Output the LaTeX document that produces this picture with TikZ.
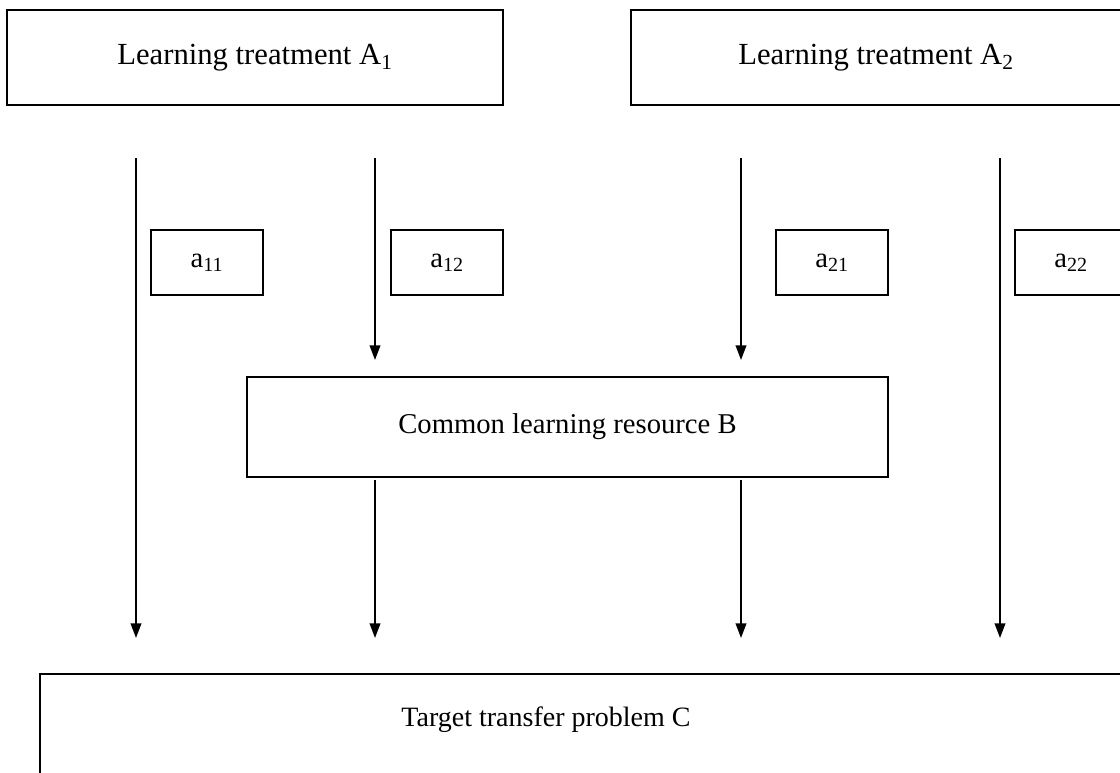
\documentclass[tikz,border=0pt]{standalone}
\usepackage{fontspec}
\setmainfont{Liberation Serif}
\usetikzlibrary{arrows.meta}
\begin{document}
\begin{tikzpicture}[x=0.75pt,y=-0.75pt,
  box/.style={draw=black,line width=1.3pt,inner sep=0pt,font=\fontsize{21.5}{25}\selectfont},
  big/.style={box,minimum height=71.25pt,font=\fontsize{23}{27}\selectfont},
  small/.style={draw=black,line width=1.3pt,inner sep=0pt,minimum width=84pt,minimum height=48.75pt,font=\fontsize{21.5}{25}\selectfont},
  arr/.style={line width=1.3pt,-{Triangle[length=11pt,width=8pt]}},
  ln/.style={line width=1.3pt}]
\useasboundingbox (0,0) rectangle (1120,773);
\node[big,minimum width=372pt] (A1) at (255,57.5) {Learning treatment A\textsubscript{1}};
\node[big,minimum width=367.5pt] (A2) at (876,57.5) {Learning treatment A\textsubscript{2}};
\node[small] (a11) at (207,262.5) {a\textsubscript{11}};
\node[small] (a12) at (447,262.5) {a\textsubscript{12}};
\node[small] (a21) at (832,262.5) {a\textsubscript{21}};
\node[small] (a22) at (1071,262.5) {a\textsubscript{22}};
\node[box,minimum width=480.75pt,minimum height=75pt] (B) at (567.5,427) {Common learning resource B};
\node[box,anchor=north west,minimum width=815pt,minimum height=80pt] (C) at (39,673) {};
\node[font=\fontsize{21}{25}\selectfont,inner sep=0pt] (Ct) at (546,720) {Target transfer problem C};
% arrows
\coordinate (s1) at (136,158); \coordinate (e1) at (136,638);
\coordinate (s2) at (375,158); \coordinate (e2) at (375,360);
\coordinate (s3) at (741,158); \coordinate (e3) at (741,360);
\coordinate (s4) at (1000,158); \coordinate (e4) at (1000,638);
\coordinate (s5) at (375,480); \coordinate (e5) at (375,638);
\coordinate (s6) at (741,480); \coordinate (e6) at (741,638);
\draw[arr] (s1) -- (e1);
\draw[arr] (s2) -- (e2);
\draw[arr] (s3) -- (e3);
\draw[arr] (s4) -- (e4);
\draw[arr] (s5) -- (e5);
\draw[arr] (s6) -- (e6);
\end{tikzpicture}
\end{document}
